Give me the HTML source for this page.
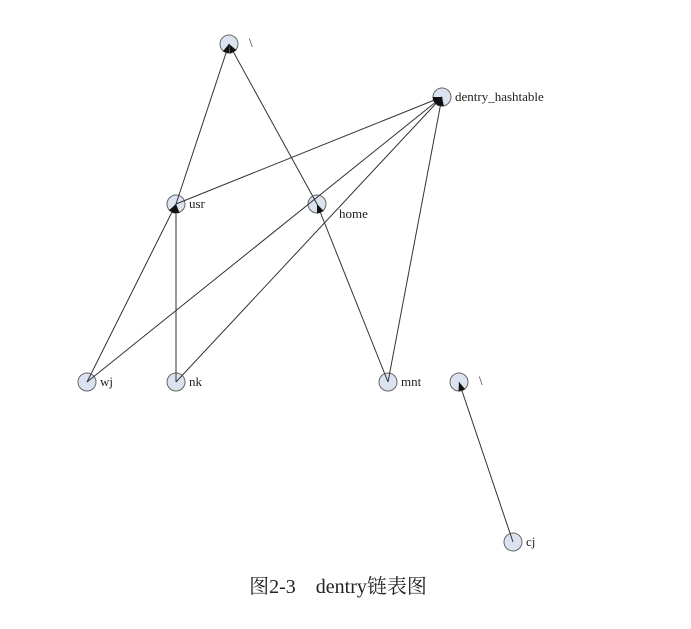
<!DOCTYPE html>
<html><head><meta charset="utf-8"><style>
html,body{margin:0;padding:0;background:#fff;}
svg{display:block;}
text{font-family:"Liberation Serif","Noto Serif CJK SC",serif;fill:#222;}
</style></head><body>
<svg id="g" width="691" height="629" viewBox="0 0 691 629">
<defs><marker id="ar" viewBox="0 0 10 10" refX="10" refY="5" markerWidth="9" markerHeight="9" orient="auto-start-reverse"><path d="M0,1 L10,5 L0,9 z" fill="#111"/></marker></defs>
<g id="nodes"></g><g id="edges"></g>
<text x="338" y="593" text-anchor="middle" font-size="20">图2-3　dentry链表图</text>
</svg>
<script>
const nodeNames=["\\","dentry_hashtable","usr","home","wj","nk","mnt","\\","cj"];
const nodeKeys=["root","hash","usr","home","wj","nk","mnt","root2","cj"];
const nodeX=[229,442,176,317,87,176,388,459,513];
const nodeY=[44,97,204,204,382,382,382,382,542];
const edgeFrom=["usr","home","usr","wj","nk","mnt","wj","nk","mnt","cj"];
const edgeTo=["root","root","hash","hash","hash","hash","usr","usr","home","root2"];
const NS="http://www.w3.org/2000/svg";
const R=9;
const idx=k=>nodeKeys.indexOf(k);
const eg=document.getElementById("edges"),ng=document.getElementById("nodes");
edgeFrom.forEach((f,i)=>{
 const a=idx(f),b=idx(edgeTo[i]);
 const x1=nodeX[a],y1=nodeY[a],x2=nodeX[b],y2=nodeY[b];
 const l=document.createElementNS(NS,"line");
 l.setAttribute("x1",x1);l.setAttribute("y1",y1);
 l.setAttribute("x2",x2);l.setAttribute("y2",y2);
 l.setAttribute("stroke","#333");l.setAttribute("stroke-width","1");
 l.setAttribute("marker-end","url(#ar)");
 
 
 eg.appendChild(l);
});
nodeKeys.forEach((k,i)=>{
 const c=document.createElementNS(NS,"circle");
 c.setAttribute("cx",nodeX[i]);c.setAttribute("cy",nodeY[i]);c.setAttribute("r",R);
 c.setAttribute("fill","#dbe3f0");c.setAttribute("stroke","#666");c.setAttribute("stroke-width","1");
 
 
 ng.appendChild(c);
 const t=document.createElementNS(NS,"text");
 let dx=13,dy=4;
 if(k==="home"){dx=22;dy=14;}
 if(k==="root"||k==="root2"){dx=20;dy=3;}
 t.setAttribute("x",nodeX[i]+dx);t.setAttribute("y",nodeY[i]+dy);
 t.setAttribute("font-size","13");
 t.textContent=nodeNames[i];
 
 
 ng.appendChild(t);
});
</script>
</body></html>
